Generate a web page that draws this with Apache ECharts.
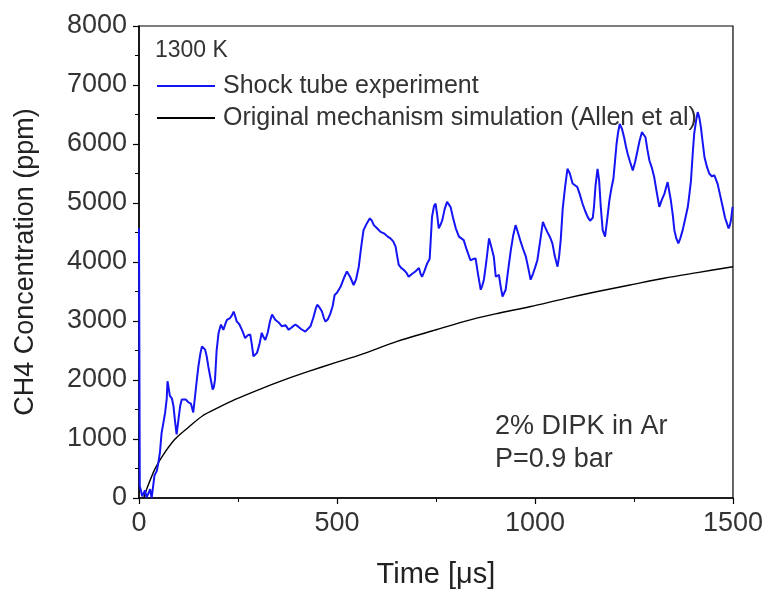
<!DOCTYPE html>
<html>
<head>
<meta charset="utf-8">
<script src="https://cdn.jsdelivr.net/npm/echarts@6/dist/echarts.min.js"></script>
<style>html,body{margin:0;padding:0;background:#fff}#c{width:766px;height:594px}</style>
</head>
<body>
<div id="c"></div>
<script>
const expTime = [0,2,5,8,12,15,19,24,28,32,36,39,45,49,53,57,62,66,70,72,74,78,83,87,91,95,100,104,108,113,118,125,131,137,142,146,150,155,159,163,167,171,175,180,186,189,192,196,201,207,213,218,222,230,235,239,243,247,253,260,264,268,275,281,285,289,294,298,304,310,315,319,325,331,336,340,344,352,361,370,378,387,395,403,410,420,427,433,440,446,450,456,462,467,471,477,483,489,494,500,509,517,525,533,542,548,555,561,567,575,583,588,593,600,610,620,628,635,642,648,652,656,662,669,675,681,690,698,707,711,715,721,728,734,737,740,745,749,753,757,762,766,772,778,783,787,793,800,808,814,820,828,837,844,850,856,863,867,871,877,884,890,896,901,909,913,918,926,932,939,945,951,957,964,970,977,983,989,995,1000,1006,1013,1020,1025,1031,1038,1044,1050,1057,1061,1065,1070,1076,1082,1088,1095,1101,1107,1113,1120,1127,1133,1139,1143,1146,1149,1153,1158,1162,1166,1171,1177,1182,1188,1193,1198,1202,1206,1210,1214,1220,1225,1230,1234,1240,1247,1253,1259,1264,1270,1275,1279,1284,1289,1295,1301,1307,1314,1320,1327,1335,1339,1343,1348,1352,1357,1362,1367,1373,1380,1386,1390,1394,1398,1402,1407,1411,1415,1419,1424,1428,1434,1440,1447,1453,1457,1461,1467,1474,1480,1485,1489,1492,1495,1499];
const expConc = [4570,200,120,30,60,130,10,80,150,0,0,380,460,600,780,1100,1290,1450,1680,1980,1900,1730,1690,1560,1300,1080,1350,1560,1670,1640,1670,1620,1600,1450,1750,2000,2230,2450,2570,2600,2515,2400,2230,2050,1840,1880,2010,2500,2800,2940,2850,2950,3020,3050,3100,3160,3080,2990,2950,2850,2780,2710,2760,2770,2600,2400,2430,2460,2600,2800,2720,2680,2800,3000,3110,3080,3020,2980,2910,2930,2850,2900,2940,2900,2860,2820,2870,2910,3050,3200,3275,3230,3160,3050,2990,3030,3120,3250,3440,3480,3580,3720,3840,3750,3610,3700,3920,4250,4540,4650,4740,4700,4625,4580,4510,4480,4430,4400,4350,4260,4100,3950,3900,3865,3820,3750,3800,3840,3900,3800,3750,3850,3980,4050,4030,4765,4950,4990,4800,4570,4640,4710,4900,5020,5000,4930,4750,4570,4430,4400,4370,4200,4030,4050,4060,3800,3530,3600,3700,4000,4400,4250,4090,3750,3780,3600,3415,3530,3850,4200,4450,4625,4500,4340,4220,4090,3900,3700,3800,3900,4030,4350,4680,4600,4510,4420,4315,4100,3920,4100,4370,4900,5270,5580,5500,5330,5300,5270,5150,4990,4860,4765,4700,4680,4750,4935,5300,5580,5385,4950,4540,4430,4700,5050,5250,5410,5700,6000,6200,6340,6250,6115,5950,5835,5700,5550,5700,5890,6050,6200,6180,6115,5900,5720,5600,5440,5200,4935,5050,5160,5355,5200,5050,4800,4540,4400,4315,4400,4540,4750,4935,5150,5385,5800,6170,6400,6540,6450,6285,6000,5780,5620,5500,5450,5470,5400,5330,5150,4935,4750,4650,4570,4620,4710,4935];
const simTime = [12,20,40,60,90,120,160,200,243,300,370,430,494,560,652,740,820,900,989,1075,1158,1240,1326,1410,1500];
const simConc = [0,160,490,720,990,1170,1390,1530,1670,1830,2010,2150,2290,2430,2655,2830,2990,3120,3245,3380,3500,3610,3725,3820,3920];
const xTicks = [0,500,1000,1500];
const yTicks = [0,1000,2000,3000,4000,5000,6000,7000,8000];
const seriesNames = ['Shock tube experiment','Original mechanism simulation (Allen et al)'];
const tempLabel = '1300 K';
const noteLines = ['2% DIPK in Ar','P=0.9 bar'];

const expData = expTime.map((t,i)=>[t,expConc[i]]);
const simData = simTime.map((t,i)=>[t,simConc[i]]);
const FONT = 'Liberation Sans, Arial, sans-serif';
const TXT = '#333';

const chart = echarts.init(document.getElementById('c'), null, {renderer:'canvas'});
chart.setOption({
  animation:false,
  backgroundColor:'#fff',
  grid:{left:139,right:33,top:26,bottom:95,show:true,borderColor:'#000',borderWidth:1.2,backgroundColor:'transparent'},
  legend:{
    orient:'vertical',left:152,top:66,itemWidth:58,itemHeight:2,itemGap:2,icon:'rect',
    textStyle:{fontFamily:FONT,fontSize:25,color:TXT,lineHeight:30,padding:[0,0,0,3]},
    data:seriesNames
  },
  xAxis:{
    type:'value',min:xTicks[0],max:xTicks[xTicks.length-1],interval:500,
    name:'Time [\u03bcs]',nameLocation:'middle',nameGap:62,
    nameTextStyle:{fontFamily:FONT,fontSize:29,color:'#222'},
    axisLine:{show:true,lineStyle:{color:'#000',width:1.5}},
    axisTick:{show:true,inside:false,length:6,lineStyle:{color:'#000',width:1.2}},
    minorTick:{show:true,splitNumber:2,length:4,lineStyle:{color:'#000',width:1}},
    splitLine:{show:false},
    axisLabel:{fontFamily:FONT,fontSize:27,color:TXT,margin:12,formatter:v=>String(v)}
  },
  yAxis:{
    type:'value',min:yTicks[0],max:yTicks[yTicks.length-1],interval:1000,
    name:'CH4 Concentration (ppm)',nameLocation:'middle',nameGap:100,
    nameTextStyle:{fontFamily:FONT,fontSize:27,color:'#222'},
    axisLine:{show:true,lineStyle:{color:'#000',width:1.5}},
    axisTick:{show:true,inside:false,length:6,lineStyle:{color:'#000',width:1.2}},
    minorTick:{show:true,splitNumber:2,length:4,lineStyle:{color:'#000',width:1}},
    splitLine:{show:false},
    axisLabel:{fontFamily:FONT,fontSize:27,color:TXT,margin:12,formatter:v=>String(v)}
  },
  series:[
    {name:seriesNames[0],type:'line',data:expData,symbol:'none',color:'#1414f5',
     lineStyle:{color:'#1414f5',width:2},z:3},
    {name:seriesNames[1],type:'line',data:simData,symbol:'none',smooth:0.3,color:'#000',
     lineStyle:{color:'#000',width:1.4},z:2}
  ],
  graphic:[
    {type:'text',left:155,top:39,style:{text:tempLabel,font:'23px '+FONT,fill:TXT}},
    {type:'text',left:495,top:413,style:{text:noteLines[0],font:'27px '+FONT,fill:TXT}},
    {type:'text',left:495,top:446,style:{text:noteLines[1],font:'27px '+FONT,fill:TXT}}
  ]
});
</script>
</body>
</html>
